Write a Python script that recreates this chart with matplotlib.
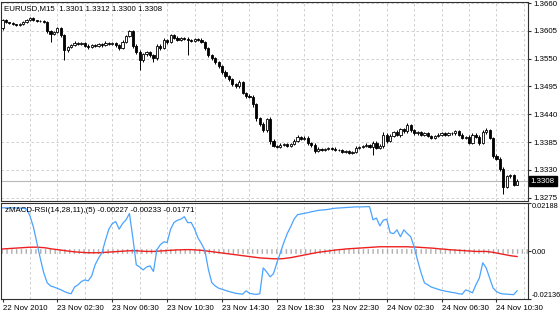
import matplotlib
matplotlib.use("Agg")
import matplotlib.pyplot as plt
from matplotlib.patches import Rectangle
from matplotlib.transforms import blended_transform_factory

plt.rcParams["font.family"] = ["Liberation Sans", "DejaVu Sans"]

# ---------------------------------------------------
# Daten (EURUSD M15, 22.11.2010 22:30 .. 24.11.2010 12:00)
# ---------------------------------------------------
first_open = 1.3610
closes = [
    1.3626, 1.3622, 1.3620, 1.3618, 1.3616, 1.3618, 1.3622, 1.3626, 1.3630, 1.3626,
    1.3624, 1.3624, 1.3622, 1.3604, 1.3598, 1.3602, 1.3610, 1.3596, 1.3567, 1.3573,
    1.3577, 1.3581, 1.3579, 1.3581, 1.3575, 1.3573, 1.3577, 1.3575, 1.3579, 1.3577,
    1.3581, 1.3579, 1.3581, 1.3577, 1.3571, 1.3583, 1.3594, 1.3604, 1.3575, 1.3563,
    1.3547, 1.3559, 1.3563, 1.3557, 1.3551, 1.3575, 1.3571, 1.3587, 1.3583, 1.3596,
    1.3591, 1.3587, 1.3591, 1.3589, 1.3587, 1.3585, 1.3589, 1.3587, 1.3583, 1.3571,
    1.3557, 1.3551, 1.3543, 1.3535, 1.3523, 1.3515, 1.3509, 1.3499, 1.3495, 1.3503,
    1.3483, 1.3477, 1.3475, 1.3460, 1.3432, 1.3420, 1.3408, 1.3430, 1.3388, 1.3378,
    1.3376, 1.3380, 1.3382, 1.3378, 1.3382, 1.3388, 1.3396, 1.3392, 1.3394, 1.3384,
    1.3380, 1.3368, 1.3372, 1.3370, 1.3372, 1.3374, 1.3372, 1.3370, 1.3370, 1.3366,
    1.3368, 1.3364, 1.3366, 1.3374, 1.3376, 1.3378, 1.3380, 1.3376, 1.3384, 1.3374,
    1.3378, 1.3400, 1.3388, 1.3398, 1.3404, 1.3400, 1.3410, 1.3406, 1.3418, 1.3408,
    1.3402, 1.3404, 1.3400, 1.3402, 1.3398, 1.3394, 1.3398, 1.3400, 1.3402, 1.3400,
    1.3402, 1.3402, 1.3406, 1.3400, 1.3394, 1.3396, 1.3384, 1.3400, 1.3396, 1.3384,
    1.3404, 1.3408, 1.3394, 1.3358, 1.3352, 1.3332, 1.3297, 1.3317, 1.3319, 1.3301,
    1.3308,
]
# Dochten in Pips
up_wick = [
    2, 2, 1, 2, 1, 2, 2, 2, 3, 2,
    1, 2, 2, 2, 3, 2, 2, 2, 3, 2,
    2, 3, 2, 2, 2, 3, 2, 2, 2, 2,
    3, 2, 2, 2, 2, 3, 2, 3, 2, 3,
    4, 3, 2, 3, 2, 4, 3, 3, 2, 3,
    2, 3, 2, 2, 3, 2, 2, 2, 3, 2,
    3, 2, 3, 3, 2, 4, 3, 3, 2, 4,
    3, 2, 3, 4, 3, 3, 4, 3, 4, 3,
    2, 3, 2, 2, 2, 3, 3, 2, 3, 3,
    2, 4, 3, 2, 2, 2, 2, 3, 2, 2,
    2, 2, 2, 3, 2, 2, 3, 2, 4, 3,
    3, 4, 3, 3, 3, 4, 3, 3, 4, 3,
    2, 2, 2, 3, 2, 2, 2, 2, 2, 2,
    2, 2, 3, 2, 3, 2, 3, 3, 2, 3,
    4, 4, 3, 2, 3, 4, 3, 3, 3, 3,
    4,
]
dn_wick = [
    3, 2, 2, 1, 2, 2, 2, 2, 2, 2,
    2, 1, 2, 3, 15, 2, 2, 3, 20, 3,
    2, 2, 3, 2, 2, 3, 2, 2, 2, 3,
    2, 2, 2, 3, 3, 2, 3, 2, 3, 4,
    20, 3, 3, 4, 8, 3, 3, 2, 4, 3,
    2, 3, 2, 3, 30, 2, 2, 3, 2, 4,
    3, 4, 3, 3, 4, 3, 3, 3, 4, 3,
    3, 4, 3, 5, 5, 4, 3, 4, 6, 3,
    3, 2, 3, 3, 2, 3, 2, 3, 3, 5,
    4, 5, 2, 2, 2, 2, 3, 2, 2, 3,
    2, 2, 3, 2, 2, 2, 3, 3, 16, 3,
    3, 4, 4, 3, 3, 3, 4, 3, 3, 4,
    2, 3, 2, 2, 2, 3, 2, 2, 2, 2,
    2, 2, 2, 3, 3, 2, 3, 3, 2, 4,
    3, 3, 3, 4, 3, 4, 14, 3, 3, 3,
    1,
]

# zMACD-RSI: Hauptlinie (blau) und Signallinie (rot)
macd_line = [
    0.0196, 0.0196, 0.0196, 0.0196, 0.0195, 0.0195, 0.0194, 0.0190, 0.0160, 0.0110,
    0.0040, -0.0030, -0.0095, -0.0140, -0.0155, -0.0160, -0.0166, -0.0172, -0.0180, -0.0186,
    -0.0190, -0.0160, -0.0150, -0.0135, -0.0128, -0.0132, -0.0110, -0.0060, -0.0030, -0.0005,
    0.0050, 0.0100, 0.0125, 0.0134, 0.0100, 0.0125, 0.0142, 0.0170, 0.0060, -0.0060,
    -0.0070, -0.0083, -0.0070, -0.0065, -0.0090, 0.0007, 0.0030, 0.0043, 0.0040, 0.0100,
    0.0130, 0.0140, 0.0145, 0.0156, 0.0129, 0.0130, 0.0100, 0.0060, 0.0035, 0.0005,
    -0.0080, -0.0140, -0.0155, -0.0165, -0.0170, -0.0175, -0.0180, -0.0184, -0.0188, -0.0190,
    -0.0192, -0.0177, -0.0188, -0.0191, -0.0193, -0.0190, -0.0074, -0.0092, -0.0114, -0.0100,
    -0.0050, -0.0006, 0.0040, 0.0080, 0.0111, 0.0145, 0.0165, 0.0168, 0.0171, 0.0174,
    0.0178, 0.0181, 0.0184, 0.0186, 0.0187, 0.0189, 0.0192, 0.0194, 0.0195, 0.0196,
    0.0197, 0.0198, 0.0199, 0.0200, 0.0200, 0.0200, 0.0201, 0.0201, 0.0142, 0.0150,
    0.0115, 0.0140, 0.0145, 0.0084, 0.0080, 0.0097, 0.0066, 0.0097, 0.0080, 0.0066,
    0.0020, -0.0040, -0.0095, -0.0141, -0.0150, -0.0160, -0.0165, -0.0170, -0.0175, -0.0178,
    -0.0181, -0.0184, -0.0186, -0.0190, -0.0192, -0.0173, -0.0178, -0.0186, -0.0150, -0.0120,
    -0.0051, -0.0074, -0.0119, -0.0164, -0.0180, -0.0188, -0.0191, -0.0192, -0.0193, -0.0194,
    -0.0177,
]
signal_line = [
    0.0011, 0.0012, 0.0013, 0.0014, 0.0015, 0.0016, 0.0017, 0.0018, 0.0019, 0.0019,
    0.0019, 0.0018, 0.0017, 0.0015, 0.0012, 0.0010, 0.0008, 0.0006, 0.0004, 0.0002,
    0.0000, -0.0002, -0.0003, -0.0004, -0.0005, -0.0006, -0.0006, -0.0006, -0.0006, -0.0005,
    -0.0004, -0.0003, -0.0002, -0.0001, 0.0000, 0.0001, 0.0002, 0.0003, 0.0003, 0.0003,
    0.0002, 0.0001, 0.0000, 0.0000, 0.0000, 0.0001, 0.0002, 0.0003, 0.0004, 0.0005,
    0.0006, 0.0007, 0.0007, 0.0008, 0.0008, 0.0008, 0.0007, 0.0006, 0.0005, 0.0003,
    0.0001, -0.0001, -0.0003, -0.0005, -0.0007, -0.0009, -0.0011, -0.0013, -0.0015, -0.0017,
    -0.0019, -0.0021, -0.0023, -0.0025, -0.0027, -0.0029, -0.0030, -0.0031, -0.0032, -0.0033,
    -0.0033, -0.0033, -0.0032, -0.0030, -0.0028, -0.0025, -0.0022, -0.0019, -0.0016, -0.0013,
    -0.0010, -0.0007, -0.0004, -0.0002, 0.0000, 0.0002, 0.0004, 0.0006, 0.0008, 0.0009,
    0.0011, 0.0012, 0.0013, 0.0014, 0.0015, 0.0016, 0.0017, 0.0018, 0.0019, 0.0020,
    0.0021, 0.0021, 0.0021, 0.0021, 0.0021, 0.0021, 0.0021, 0.0021, 0.0021, 0.0020,
    0.0020, 0.0019, 0.0018, 0.0017, 0.0016, 0.0015, 0.0014, 0.0012, 0.0011, 0.0010,
    0.0008, 0.0007, 0.0006, 0.0005, 0.0004, 0.0003, 0.0002, 0.0001, 0.0000, 0.0000,
    0.0000, 0.0000, -0.0002, -0.0004, -0.0007, -0.0010, -0.0013, -0.0016, -0.0019, -0.0021,
    -0.0023,
]

price_ticks = [1.3660, 1.3605, 1.3550, 1.3495, 1.3440, 1.3385, 1.3330, 1.3275]
ind_max = 0.02188
ind_min = -0.02136
time_labels = ["22 Nov 2010", "23 Nov 02:30", "23 Nov 06:30", "23 Nov 10:30",
               "23 Nov 14:30", "23 Nov 18:30", "23 Nov 22:30", "24 Nov 02:30",
               "24 Nov 06:30", "24 Nov 10:30"]
ind_title = "zMACD-RSI(14,28,11),(5) -0.00227 -0.00233 -0.01771"

PIP = 0.0001
FS = 5.7
GRID = "#c8c8c8"
BARS_PER_LABEL = 16
BARS_PER_GRID = 8

opens = [first_open] + closes[:-1]
highs = [max(o, c) + u * PIP for o, c, u in zip(opens, closes, up_wick)]
lows = [min(o, c) - d * PIP for o, c, d in zip(opens, closes, dn_wick)]
n = len(closes)
bars = list(range(n))

# ---------------------------------------------------
# Figure / Achsen (MT4-Layout)
# ---------------------------------------------------
W, H = 560, 315
fig = plt.figure(figsize=(W / 100, H / 100), dpi=100)
fig.patch.set_facecolor("white")

ax = fig.add_axes([1 / W, 1 - 200.5 / H, 526.7 / W, 199 / H])
ax2 = fig.add_axes([1 / W, 1 - 299 / H, 526.7 / W, 96.3 / H])

xlim = (-0.44, 153.1)
for a in (ax, ax2):
    a.set_xlim(*xlim)
    for sp in a.spines.values():
        sp.set_color("#303030")
        sp.set_linewidth(0.8)
    for k in range(BARS_PER_GRID, int(xlim[1]) + 1, BARS_PER_GRID):
        a.axvline(k, color=GRID, lw=0.6, ls=(0, (3, 3)), zorder=0)

# ---------------------------------------------------
# Candles
# ---------------------------------------------------
for i, o, h, l, c in zip(bars, opens, highs, lows, closes):
    ax.vlines(i, l, h, color="black", lw=0.7, zorder=2)
    face = "white" if c >= o else "black"
    body = max(abs(c - o), 0.00003)
    ax.add_patch(Rectangle((i - 0.32, min(o, c)), 0.64, body,
                           facecolor=face, edgecolor="black", lw=0.6, zorder=3))

for v in price_ticks:
    ax.axhline(v, color=GRID, lw=0.6, ls=(0, (3, 3)), zorder=0)

ax.axhline(closes[-1], color="#b8b8b8", lw=0.8, zorder=1)

ax.set_ylim(1.32695, 1.36630)
ax.set_xticks([])
ax.yaxis.tick_right()
ax.set_yticks(price_ticks)
ax.set_yticklabels([f"{v:.4f}" for v in price_ticks])
ax.tick_params(axis="y", labelsize=FS, length=2, pad=1.8, color="#303030")

trans = blended_transform_factory(ax.transAxes, ax.transData)
ax.text(1 + 3 / 526.7, closes[-1], f"{closes[-1]:.4f}", transform=trans,
        ha="left", va="center", color="white", fontsize=FS, clip_on=False,
        zorder=10, bbox=dict(boxstyle="square,pad=0.22", fc="black", ec="black"))

fig.text(4 / W, 1 - 8.5 / H,
         f"EURUSD,M15  {opens[-1]:.4f} {highs[-1]:.4f} {lows[-1]:.4f} {closes[-1]:.4f}",
         fontsize=FS, va="center", ha="left", color="black")

# ---------------------------------------------------
# Indikator
# ---------------------------------------------------
ax2.axhline(0, color="#b0b0b0", lw=3.4, ls=(0, (0.3, 0.72)), zorder=1)
ax2.plot(bars, signal_line, color="#ee2020", lw=1.0, zorder=3)
ax2.plot(bars, macd_line, color="#4aa3ff", lw=0.9, zorder=4)
ax2.set_ylim(ind_min, ind_max)

ax2.yaxis.tick_right()
ax2.set_yticks([ind_min, 0, ind_max])
ax2.set_yticklabels([f"{ind_min:.5f}", "0.00", f"{ind_max:.5f}"])
ax2.tick_params(axis="y", labelsize=5.3, length=2, pad=1.2, color="#303030")
ylabels = ax2.get_yticklabels()
ylabels[0].set_va("bottom")
ylabels[2].set_va("top")

ax2.set_xticks([k * BARS_PER_LABEL for k in range(len(time_labels))])
ax2.set_xticklabels(time_labels, ha="left")
ax2.tick_params(axis="x", labelsize=FS, length=2, pad=2.5, color="#303030")

fig.text(5 / W, 1 - 210 / H, ind_title, fontsize=FS, va="center", ha="left",
         color="black")

fig.savefig("out.png", dpi=100)
